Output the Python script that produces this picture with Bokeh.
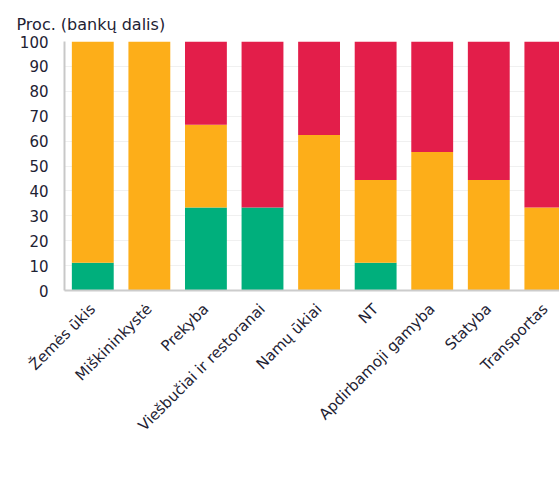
import math
from bokeh.plotting import figure
from bokeh.models import (ColumnDataSource, Range1d, FixedTicker, Legend, LegendItem, Title)
from bokeh.embed import file_html
from bokeh.resources import INLINE

categories = ["Žemės ūkis", "Miškininkystė", "Prekyba", "Viešbučiai ir restoranai",
              "Namų ūkiai", "NT", "Apdirbamoji gamyba", "Statyba", "Transportas"]
gerejanti = [11.1, 0.0, 33.3, 33.3, 0.0, 11.1, 0.0, 0.0, 0.0]
stabili = [88.9, 100.0, 33.3, 0.0, 62.5, 33.3, 55.6, 44.4, 33.3]
blogejanti = [0.0, 0.0, 33.4, 66.7, 37.5, 55.6, 44.4, 55.6, 66.7]
series = ["Gerėjanti", "Stabili", "Blogėjanti"]
colors = ["#00AF7C", "#FDAE19", "#E31E4A"]
y_ticks = [0, 10, 20, 30, 40, 50, 60, 70, 80, 90, 100]
source_note = "Šaltiniai: Bankų apklausa ir Lietuvos banko skaičiavimai."

FONT = "DejaVu Sans"
TXT = "#1E2233"

xpos = [i + 0.5 for i in range(len(categories))]
source = ColumnDataSource(dict(x=xpos, **{"Gerėjanti": gerejanti, "Stabili": stabili, "Blogėjanti": blogejanti}))

p = figure(width=559, height=486, frame_width=495, frame_height=249,
           output_backend="svg", toolbar_location=None,
           x_range=Range1d(0, 8.75), y_range=Range1d(0, 100),
           min_border_left=64, min_border_right=0, min_border_top=41, min_border_bottom=0)
p.outline_line_color = None

rs = p.vbar_stack(series, x="x", width=0.74, color=colors, line_color=None, source=source)

p.xaxis.ticker = FixedTicker(ticks=xpos)
p.xaxis.major_label_overrides = {x: c for x, c in zip(xpos, categories)}
p.xaxis.major_label_orientation = math.pi / 4
p.xaxis.major_label_text_font = FONT
p.xaxis.major_label_text_font_size = "15px"
p.xaxis.major_label_text_color = TXT
p.xaxis.major_tick_line_color = None
p.xaxis.minor_tick_line_color = None
p.xaxis.axis_line_color = "#CCCCCC"
p.xaxis.axis_line_width = 2
p.xaxis.major_label_standoff = 10

p.yaxis.ticker = FixedTicker(ticks=y_ticks)
p.yaxis.major_label_text_font = FONT
p.yaxis.major_label_text_font_size = "15px"
p.yaxis.major_label_text_color = TXT
p.yaxis.major_tick_line_color = None
p.yaxis.minor_tick_line_color = None
p.yaxis.axis_line_color = "#C8C8C8"
p.yaxis.axis_line_width = 2
p.yaxis.major_label_standoff = 10

p.xgrid.grid_line_color = None
p.ygrid.grid_line_color = "#F0F0F0"

p.title = Title(text="Proc. (bankų dalis)", align="left", offset=-48,
                text_font=FONT, text_font_size="16px", text_font_style="normal",
                text_color=TXT, standoff=16)

legend = Legend(items=[LegendItem(label=s, renderers=[r]) for s, r in zip(series, rs)],
                orientation="horizontal", location="top_left",
                border_line_color=None, background_fill_alpha=0,
                label_text_font=FONT, label_text_font_size="17px", label_text_color=TXT,
                glyph_width=9, glyph_height=9, label_standoff=5, spacing=20,
                padding=0, margin=0)
p.add_layout(legend, "below")

p.add_layout(Title(text=source_note, align="left", offset=-56,
                   text_font=FONT, text_font_size="16px", text_font_style="normal",
                   text_color=TXT, standoff=0), "below")

open("out.html", "w").write(file_html(p, INLINE))
